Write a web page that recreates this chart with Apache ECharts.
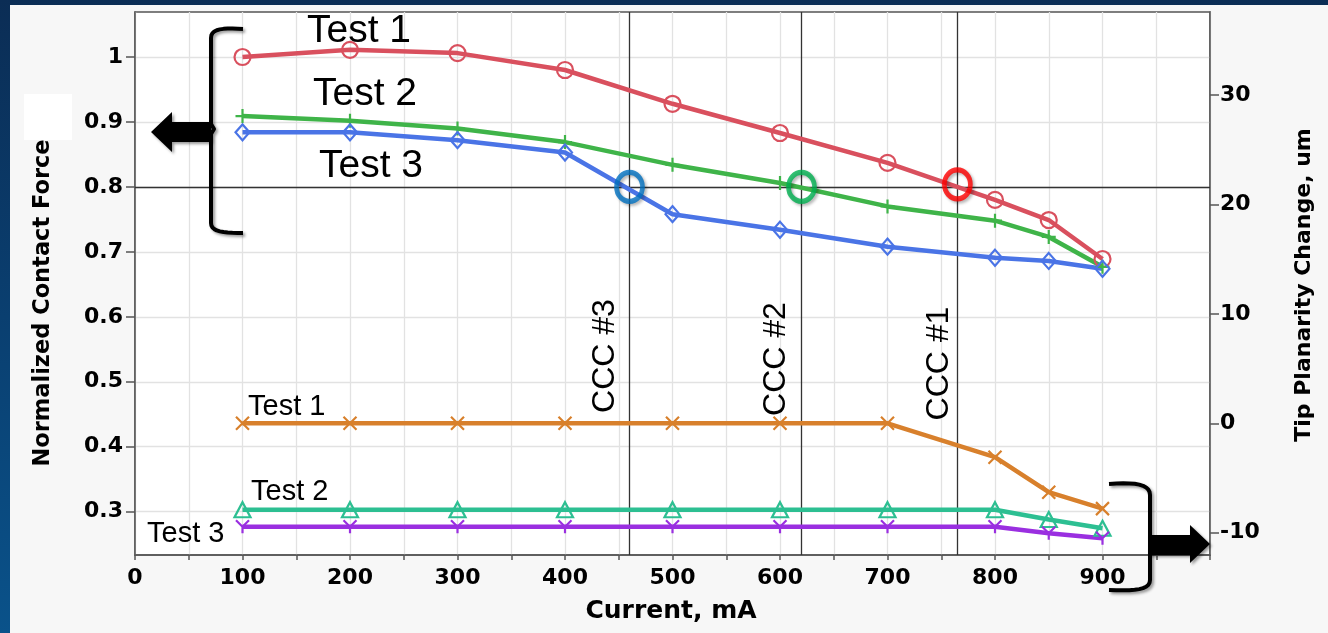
<!DOCTYPE html>
<html>
<head>
<meta charset="utf-8">
<script src="https://cdn.jsdelivr.net/npm/echarts@6/dist/echarts.min.js"></script>
<style>
  html, body { margin: 0; padding: 0; width: 1328px; height: 633px; overflow: hidden;
    background: linear-gradient(180deg, #0b2d55 0%, #0a3f70 50%, #0a528a 100%); }
  #panel { position: absolute; left: 10px; top: 5px; width: 1318px; height: 628px; background: #f7f7f7; }
  #chart { position: absolute; left: 0; top: 0; width: 1328px; height: 633px; }
</style>
</head>
<body>
<div id="panel"></div>
<div id="chart"></div>
<script>
// ---- data ----
const currents = [100, 200, 300, 400, 500, 600, 700, 800, 850, 900];
const forceTest1 = [1.000, 1.011, 1.006, 0.980, 0.928, 0.883, 0.837, 0.780, 0.749, 0.689];
const forceTest2 = [0.909, 0.902, 0.890, 0.869, 0.834, 0.806, 0.770, 0.748, 0.723, 0.677];
const forceTest3 = [0.884, 0.884, 0.872, 0.853, 0.758, 0.734, 0.708, 0.691, 0.686, 0.674];
const planarityTest1 = [0, 0, 0, 0, 0, 0, 0, -3.1, -6.3, -7.8];
const planarityTest2 = [-7.9, -7.9, -7.9, -7.9, -7.9, -7.9, -7.9, -7.9, -8.8, -9.6];
const planarityTest3 = [-9.45, -9.45, -9.45, -9.45, -9.45, -9.45, -9.45, -9.45, -10.05, -10.5];
const cccCurrents = [460, 620, 765];
const cccLabels = ['CCC #3', 'CCC #2', 'CCC #1'];
const cccCircleForce = [0.8, 0.8, 0.804];
const forceThreshold = 0.8;
const xTickLabels = [0, 100, 200, 300, 400, 500, 600, 700, 800, 900];
const leftTickValues = [0.3, 0.4, 0.5, 0.6, 0.7, 0.8, 0.9, 1];
const rightTickValues = [-10, 0, 10, 20, 30];

const zip = (xs, ys) => xs.map((x, i) => [x, ys[i]]);

const C = {
  red: '#d9505e', green: '#3fb449', blue: '#4a74e6',
  orange: '#d8802c', teal: '#2dbf92', purple: '#9a2fe0',
  axis: '#555555', grid: '#e2e2e2'
};
const LBL = { fontFamily: 'DejaVu Sans', fontWeight: 'bold', fontSize: 22, color: '#000' };
const ARIAL = 'Liberation Sans, Arial, sans-serif';

const plusPath = 'path://M5,0 L5,10 M0,5 L10,5';
const crossPath = 'path://M0,0 L10,10 M10,0 L0,10';
const yPath = 'path://M0,0 L5,5 L10,0 M5,5 L5,10';

function lineSeries(name, data, color, yIdx, symbol, size) {
  return {
    name, type: 'line', yAxisIndex: yIdx, data,
    symbol, symbolSize: size, symbolKeepAspect: true, showAllSymbol: true,
    lineStyle: { color, width: 4.5 },
    itemStyle: { color: 'rgba(0,0,0,0)', borderColor: color, borderWidth: 2.2 },
    emphasis: { disabled: true }, z: 3
  };
}

const chart = echarts.init(document.getElementById('chart'), null, { renderer: 'canvas' });

const series = [
  Object.assign(lineSeries('Force Test 1', zip(currents, forceTest1), C.red, 0, 'circle', 16), {
    markLine: {
      silent: true, symbol: 'none', z: 1, animation: false,
      label: { show: false },
      lineStyle: { color: '#333', width: 1.3, type: 'solid' },
      data: cccCurrents.map(v => ({ xAxis: v })).concat([{ yAxis: forceThreshold }])
    }
  }),
  lineSeries('Force Test 2', zip(currents, forceTest2), C.green, 0, plusPath, 14),
  lineSeries('Force Test 3', zip(currents, forceTest3), C.blue, 0, 'diamond', [14, 16]),
  lineSeries('Planarity Test 1', zip(currents, planarityTest1), C.orange, 1, crossPath, 13),
  lineSeries('Planarity Test 2', zip(currents, planarityTest2), C.teal, 1, 'triangle', [16, 15]),
  lineSeries('Planarity Test 3', zip(currents, planarityTest3), C.purple, 1, yPath, 13),
  {
    name: 'CCC', type: 'scatter', yAxisIndex: 0, z: 6,
    symbol: 'circle', symbolSize: [26, 29],
    emphasis: { disabled: true },
    data: cccCurrents.map((x, i) => ({
      value: [x, cccCircleForce[i]],
      itemStyle: {
        color: 'rgba(0,0,0,0)', borderWidth: 5,
        borderColor: ['#0070c0', '#00b050', '#ff0000'][i],
        shadowBlur: 3, shadowColor: 'rgba(0,0,0,0.35)', shadowOffsetX: 2, shadowOffsetY: 2
      }
    }))
  }
];

const shadow = { shadowBlur: 3, shadowColor: 'rgba(0,0,0,0.4)', shadowOffsetX: 2, shadowOffsetY: 2 };
function txt(text, x, y, size, opts) {
  return Object.assign({
    type: 'text', x, y, z: 50,
    style: Object.assign({ text, fontFamily: ARIAL, fontSize: size, fill: '#000', align: 'left', verticalAlign: 'middle' }, (opts && opts.style) || {})
  }, opts && opts.rotation ? { rotation: opts.rotation } : {});
}
// cubic bezier sampled into polyline points
function cubic(p0, p1, p2, p3, n) {
  const pts = [];
  for (let i = 0; i <= n; i++) {
    const t = i / n, u = 1 - t;
    pts.push([
      u*u*u*p0[0] + 3*u*u*t*p1[0] + 3*u*t*t*p2[0] + t*t*t*p3[0],
      u*u*u*p0[1] + 3*u*u*t*p1[1] + 3*u*t*t*p2[1] + t*t*t*p3[1]
    ]);
  }
  return pts;
}
const leftBracket = [].concat(
  cubic([243,29],[224,28],[211,28],[211,38], 10),
  [[211,124],[214,129],[211,134],[211,223]],
  cubic([211,223],[211,232],[224,233],[243,233], 10)
);
const rightBracket = [].concat(
  cubic([1109,484],[1135,482],[1150,484],[1150,495], 10),
  [[1150,536],[1154,541],[1150,547],[1150,580]],
  cubic([1150,580],[1150,590],[1135,591],[1109,590], 10)
);

const graphics = [
  { type: 'rect', shape: { x: 24, y: 94, width: 48, height: 46 }, style: { fill: '#ffffff' }, z: 1 },
  // axis titles
  txt('Normalized Contact Force', 43, 303, 22.5, { rotation: Math.PI / 2, style: { fontFamily: 'DejaVu Sans', fontWeight: 'bold', align: 'center' } }),
  txt('Tip Planarity Change, um', 1304, 285, 22, { rotation: Math.PI / 2, style: { fontFamily: 'DejaVu Sans', fontWeight: 'bold', align: 'center' } }),
  txt('Current, mA', 671, 611, 25, { style: { fontFamily: 'DejaVu Sans', fontWeight: 'bold', align: 'center' } }),
  // slide annotations
  txt('Test 1', 307, 31, 39),
  txt('Test 2', 313, 94, 39),
  txt('Test 3', 319, 166, 39),
  txt('Test 1', 248, 407, 29),
  txt('Test 2', 251, 492, 29),
  txt('Test 3', 147, 534, 29),
  txt(cccLabels[0], 605.5, 356, 32, { rotation: Math.PI / 2, style: { align: 'center' } }),
  txt(cccLabels[1], 776.5, 359, 32, { rotation: Math.PI / 2, style: { align: 'center' } }),
  txt(cccLabels[2], 939, 363.5, 32, { rotation: Math.PI / 2, style: { align: 'center' } }),
  // brackets and arrows
  { type: 'polyline', z: 40, shape: { points: leftBracket },
    style: Object.assign({ fill: null, stroke: '#000', lineWidth: 4, lineJoin: 'round' }, shadow) },
  { type: 'polygon', z: 40, shape: { points: [[211,122],[172,122],[172,112],[151,132],[172,152],[172,142],[211,142]] },
    style: Object.assign({ fill: '#000' }, shadow) },
  { type: 'polyline', z: 40, shape: { points: rightBracket },
    style: Object.assign({ fill: null, stroke: '#000', lineWidth: 4, lineJoin: 'round' }, shadow) },
  { type: 'polygon', z: 40, shape: { points: [[1148,535],[1190,535],[1190,525],[1210,544],[1190,563],[1190,555],[1148,555]] },
    style: Object.assign({ fill: '#000' }, shadow) }
];

chart.setOption({
  animation: false,
  backgroundColor: 'transparent',
  grid: { left: 135, right: 118, top: 12, bottom: 78, show: true, backgroundColor: '#ffffff', borderColor: C.axis, borderWidth: 1.5, containLabel: false },
  xAxis: {
    type: 'value', min: 0, max: 1000, interval: 50,
    axisLine: { show: true, onZero: false, lineStyle: { color: C.axis, width: 1.5 } },
    axisTick: { show: true, length: 5, lineStyle: { color: C.axis, width: 1.5 } },
    axisLabel: Object.assign({ margin: 12, customValues: xTickLabels,
      formatter: v => (v % 100 === 0 && v < 1000) ? String(v) : '' }, LBL),
    splitLine: { show: true, lineStyle: { color: C.grid, width: 1.3 } }
  },
  yAxis: [
    {
      type: 'value', position: 'left', min: 0.2333, max: 1.0693,
      axisLine: { show: true, onZero: false, lineStyle: { color: C.axis, width: 1.5 } },
      axisTick: { show: true, length: 9, customValues: leftTickValues, lineStyle: { color: C.axis, width: 1.5 } },
      axisLabel: Object.assign({ margin: 12, customValues: leftTickValues, formatter: v => String(+(+v).toFixed(1)) }, LBL),
      splitLine: { show: true, lineStyle: { color: C.grid, width: 1.3 } }
    },
    {
      type: 'value', position: 'right', min: -12.04, max: 37.6,
      axisLine: { show: true, onZero: false, lineStyle: { color: C.axis, width: 1.5 } },
      axisTick: { show: true, length: 9, customValues: rightTickValues, lineStyle: { color: C.axis, width: 1.5 } },
      axisLabel: Object.assign({ margin: 10, customValues: rightTickValues, formatter: v => String(Math.round(v)) }, LBL),
      splitLine: { show: false }
    }
  ],
  series,
  graphic: graphics
});
</script>
</body>
</html>
